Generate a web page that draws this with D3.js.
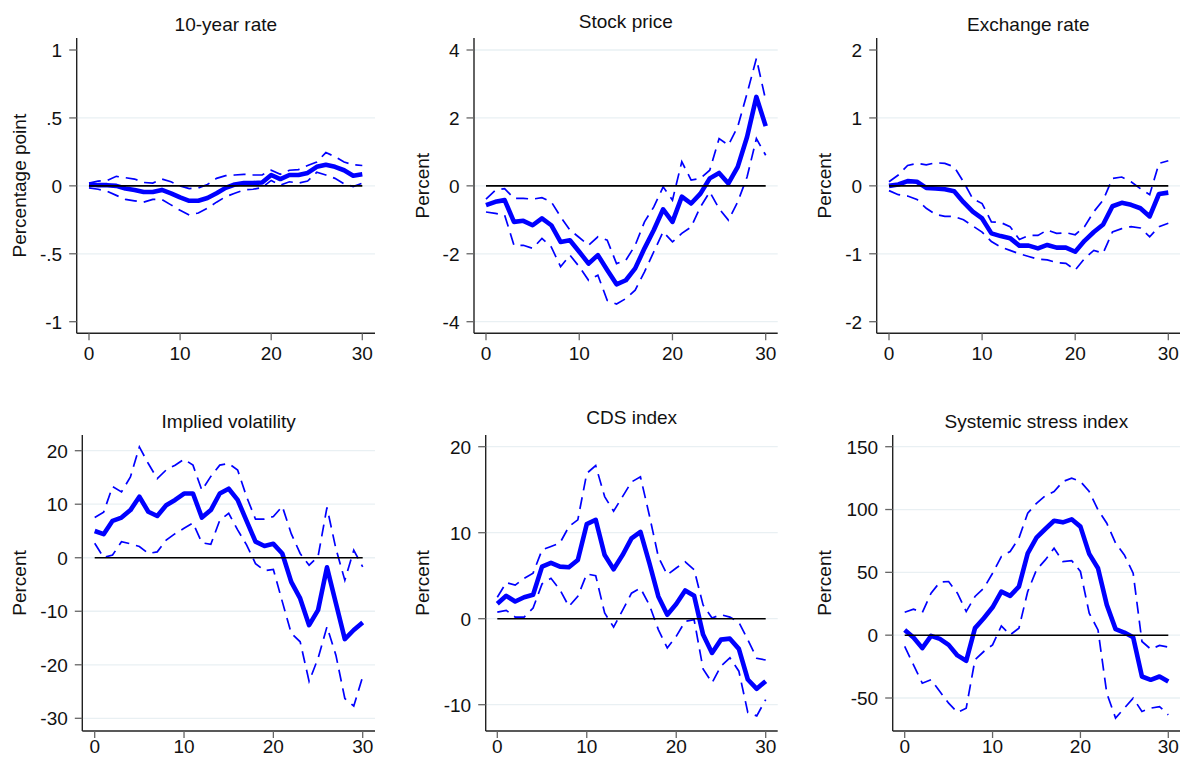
<!DOCTYPE html>
<html>
<head>
<meta charset="utf-8">
<script src="https://cdn.jsdelivr.net/npm/d3@7"></script>
<style>
  body { margin: 0; background: #fff; }
  svg { display: block; }
  text { font-family: "Liberation Sans", Arial, sans-serif; fill: #111; }
</style>
</head>
<body>
<div id="chart"></div>
<script>
// horizon (days after shock)
const HORIZON = [0,1,2,3,4,5,6,7,8,9,10,11,12,13,14,15,16,17,18,19,20,21,22,23,24,25,26,27,28,29,30];
const X_TICKS = [0, 10, 20, 30];

// 10-year rate
const rateIrf = [0.01,0.005,0.005,0,-0.02,-0.03,-0.045,-0.045,-0.03,-0.055,-0.085,-0.11,-0.11,-0.09,-0.055,-0.015,0.01,0.02,0.02,0.025,0.08,0.05,0.08,0.08,0.095,0.14,0.155,0.14,0.115,0.075,0.085];
const rateHi = [0.02,0.035,0.04,0.07,0.06,0.05,0.025,0.02,0.05,0.03,0,-0.02,-0.015,0.01,0.055,0.075,0.08,0.085,0.08,0.08,0.115,0.085,0.115,0.12,0.15,0.175,0.245,0.215,0.175,0.155,0.15];
const rateLo = [-0.015,-0.025,-0.04,-0.07,-0.1,-0.11,-0.12,-0.1,-0.1,-0.14,-0.18,-0.215,-0.2,-0.165,-0.12,-0.08,-0.055,-0.03,-0.025,-0.012,0.04,0.005,0.03,0.02,0.035,0.1,0.08,0.055,0.015,-0.005,0.02];
const rateTicks = [-1, -0.5, 0, 0.5, 1];

// stock price
const stockIrf = [-0.57,-0.47,-0.42,-1.06,-1.03,-1.16,-0.96,-1.16,-1.65,-1.6,-1.94,-2.29,-2.04,-2.48,-2.9,-2.78,-2.43,-1.84,-1.3,-0.69,-1.06,-0.32,-0.52,-0.23,0.22,0.38,0.07,0.56,1.44,2.62,1.76];
const stockHi = [-0.39,-0.13,-0.08,-0.37,-0.37,-0.39,-0.35,-0.47,-0.91,-1.3,-1.52,-1.75,-1.5,-1.6,-2.29,-2.19,-1.75,-1.06,-0.62,-0.03,-0.42,0.71,0.17,0.22,0.46,1.39,1.2,1.74,2.72,3.75,2.52];
const stockLo = [-0.77,-0.81,-0.86,-1.75,-1.75,-1.84,-1.55,-1.8,-2.38,-2.04,-2.38,-2.78,-2.63,-3.37,-3.48,-3.32,-3.07,-2.53,-1.94,-1.35,-1.65,-1.4,-1.21,-0.62,-0.18,-0.67,-1.01,-0.47,0.26,1.39,0.9];
const stockTicks = [-4, -2, 0, 2, 4];

// exchange rate
const fxIrf = [0,0.02,0.07,0.06,-0.03,-0.04,-0.05,-0.08,-0.24,-0.38,-0.48,-0.7,-0.74,-0.77,-0.88,-0.88,-0.92,-0.87,-0.91,-0.91,-0.97,-0.81,-0.68,-0.57,-0.3,-0.25,-0.28,-0.33,-0.45,-0.12,-0.1];
const fxHi = [0.06,0.16,0.3,0.33,0.31,0.34,0.33,0.28,0.06,-0.19,-0.26,-0.53,-0.54,-0.6,-0.79,-0.73,-0.73,-0.65,-0.7,-0.69,-0.72,-0.6,-0.38,-0.21,0.11,0.13,0.06,-0.04,-0.13,0.33,0.37];
const fxLo = [-0.07,-0.13,-0.15,-0.2,-0.33,-0.42,-0.45,-0.45,-0.5,-0.59,-0.68,-0.82,-0.9,-0.95,-1.0,-1.04,-1.08,-1.09,-1.13,-1.14,-1.24,-1.07,-0.95,-0.99,-0.68,-0.63,-0.6,-0.62,-0.75,-0.6,-0.55];
const fxTicks = [-2, -1, 0, 1, 2];

// implied volatility
const volIrf = [5,4.4,6.9,7.5,8.9,11.4,8.6,7.8,9.8,10.8,12,12,7.5,8.9,12,12.9,10.8,6.9,3,2.2,2.6,0.8,-4.5,-7.6,-12.6,-9.8,-1.8,-8.5,-15.2,-13.5,-12.1];
const volHi = [7.5,8.5,13.3,12.3,15.1,20.7,17.6,14.8,16.4,17.3,18.4,17.3,12.6,15.2,17.3,17.6,16.4,11.4,7.2,7.2,7.7,9.6,4.5,0.8,-1.4,0.2,9.4,1.7,-4.2,1.4,-1.7];
const volLo = [2.7,0.06,0.5,3,2.6,2.1,0.8,1.1,3.3,4.5,5.5,6.5,2.8,2.5,7,8.3,5.2,2.4,-1.1,-2.4,-2.2,-8.2,-14.1,-15.7,-23.1,-18.8,-12.9,-18.2,-26.3,-27.7,-22.2];
const volTicks = [-30, -20, -10, 0, 10, 20];

// CDS index
const cdsIrf = [1.74,2.66,2,2.5,2.78,6.06,6.5,6.06,5.98,6.83,11,11.5,7.4,5.75,7.4,9.34,10.1,6.45,2.59,0.46,1.7,3.28,2.66,-1.85,-3.98,-2.43,-2.32,-3.51,-7.07,-8.15,-7.26];
const cdsHi = [2.5,4.2,3.9,4.7,5.3,8,8.4,8.8,10.7,11.5,16.9,17.8,14.2,12.5,14.2,15.9,16.5,12,7.2,5.1,5.9,6.6,5.7,1.6,0.08,0.46,0.19,-0.42,-2.43,-4.6,-4.8];
const cdsLo = [0.77,0.97,0.19,0.19,1.24,4.05,4.7,3.36,1.43,2.6,5.2,5,0.66,-0.97,0.97,2.97,3.55,1.6,-1.27,-3.4,-2.05,-0.3,-0.12,-5.83,-7.45,-5.52,-4.56,-6.1,-10.9,-11.3,-9.4];
const cdsTicks = [-10, 0, 10, 20];

// systemic stress index
const ssiIrf = [4.2,-1.9,-10.3,-0.5,-2.9,-7.7,-16.1,-20.4,5.6,13.5,22.2,34.7,31.3,38.7,65.1,77.6,84.5,91.1,89.8,92.2,86.4,64.7,53.3,24.1,4.8,2.1,-1.6,-32.9,-35.5,-32.9,-36.9];
const ssiHi = [18.3,20.7,18,33.4,42.2,42.7,33.4,18.8,30.8,37.4,49.3,62.6,66.6,77.2,97.1,105,110.9,114.3,122.3,124.9,122.3,114.3,99.7,89.1,73.2,63.9,49.3,-5,-11.1,-8.2,-9.5];
const ssiLo = [-9,-23.6,-38.2,-35.5,-44.8,-54.1,-61.5,-58.1,-19.6,-13,-7.7,7.4,0.3,5.6,34.7,52,59.9,69.2,58.6,59.4,50.7,17.5,4.2,-46.2,-66,-58.1,-50.1,-60.7,-58.1,-56.8,-63.4];
const ssiTicks = [-50, 0, 50, 100, 150];

const TITLES = ['10-year rate', 'Stock price', 'Exchange rate', 'Implied volatility', 'CDS index', 'Systemic stress index'];
const YLABELS = ['Percentage point', 'Percent', 'Percent', 'Percent', 'Percent', 'Percent'];

const panels = [
  { irf: rateIrf, hi: rateHi, lo: rateLo, ticks: rateTicks, edgeGrid: false },
  { irf: stockIrf, hi: stockHi, lo: stockLo, ticks: stockTicks, edgeGrid: true },
  { irf: fxIrf, hi: fxHi, lo: fxLo, ticks: fxTicks, edgeGrid: false },
  { irf: volIrf, hi: volHi, lo: volLo, ticks: volTicks, edgeGrid: true },
  { irf: cdsIrf, hi: cdsHi, lo: cdsLo, ticks: cdsTicks, edgeGrid: true },
  { irf: ssiIrf, hi: ssiHi, lo: ssiLo, ticks: ssiTicks, edgeGrid: true },
];

// plot regions (pixels): axis line x, x-range for 0..30, right edge, top/bottom, y-range for min..max tick
const layout = [
  { axisX: 76.7, x0: 89, x1: 362.3, right: 375, top: 38, bottom: 333.3, yMax: 50, yMin: 321.7, titleY: 31, labX: 25.7, xlabY: 360 },
  { axisX: 474, x0: 486, x1: 765.7, right: 777.7, top: 38, bottom: 333.3, yMax: 50, yMin: 321.7, titleY: 27.7, labX: 429, xlabY: 360 },
  { axisX: 876.7, x0: 889, x1: 1168.3, right: 1180, top: 38, bottom: 333.3, yMax: 50, yMin: 321.7, titleY: 31, labX: 831.3, xlabY: 360 },
  { axisX: 82.3, x0: 94.7, x1: 362.7, right: 375, top: 435, bottom: 731, yMax: 450.7, yMin: 718.3, titleY: 427.7, labX: 25.7, xlabY: 752.5 },
  { axisX: 485.7, x0: 497.3, x1: 765.7, right: 777.7, top: 435, bottom: 731, yMax: 446.7, yMin: 704.7, titleY: 424, labX: 429, xlabY: 752.5 },
  { axisX: 892.7, x0: 904.7, x1: 1168.3, right: 1180, top: 435, bottom: 731, yMax: 446.7, yMin: 698, titleY: 427.7, labX: 831.3, xlabY: 752.5 },
];

const width = 1180, height = 757;
const FONT = 19;
const BLUE = '#0000ff';

const svg = d3.select('#chart').append('svg')
  .attr('width', width)
  .attr('height', height);

// stata-like tick labels: .5 instead of 0.5
const fmtTick = (v) => String(v).replace(/^(-?)0\./, '$1.');

panels.forEach((p, i) => {
  const L = layout[i];
  const x = d3.scaleLinear().domain([0, 30]).range([L.x0, L.x1]);
  const y = d3.scaleLinear()
    .domain([d3.min(p.ticks), d3.max(p.ticks)])
    .range([L.yMin, L.yMax]);
  const g = svg.append('g');

  // gridlines
  const gridTicks = p.edgeGrid ? p.ticks : p.ticks.slice(1, -1);
  g.selectAll('line.grid')
    .data(gridTicks)
    .enter()
    .append('line')
    .attr('x1', L.axisX)
    .attr('x2', L.right)
    .attr('y1', (d) => y(d))
    .attr('y2', (d) => y(d))
    .attr('stroke', '#e9f0f3')
    .attr('stroke-width', 1.3);

  const line = d3.line()
    .x((d, j) => x(HORIZON[j]))
    .y((d) => y(d))
    .curve(d3.curveLinear);

  // confidence bands
  [p.hi, p.lo].forEach((band) => {
    g.append('path')
      .datum(band)
      .attr('d', line)
      .attr('fill', 'none')
      .attr('stroke', BLUE)
      .attr('stroke-width', 1.7)
      .attr('stroke-dasharray', '12,7');
  });

  // impulse response
  g.append('path')
    .datum(p.irf)
    .attr('d', line)
    .attr('fill', 'none')
    .attr('stroke', BLUE)
    .attr('stroke-width', 4.6)
    .attr('stroke-linejoin', 'round');

  // zero line
  g.append('line')
    .attr('x1', x(0))
    .attr('x2', x(30))
    .attr('y1', y(0))
    .attr('y2', y(0))
    .attr('stroke', '#000')
    .attr('stroke-width', 1.6);

  // y axis
  const yAxis = g.append('g');
  yAxis.append('line')
    .attr('x1', L.axisX).attr('x2', L.axisX)
    .attr('y1', L.top).attr('y2', L.bottom)
    .attr('stroke', '#222').attr('stroke-width', 1.4);
  yAxis.selectAll('line.tick')
    .data(p.ticks)
    .enter()
    .append('line')
    .attr('x1', L.axisX - 7.5)
    .attr('x2', L.axisX)
    .attr('y1', (d) => y(d))
    .attr('y2', (d) => y(d))
    .attr('stroke', '#666')
    .attr('stroke-width', 1.3);
  yAxis.selectAll('text')
    .data(p.ticks)
    .enter()
    .append('text')
    .attr('x', L.axisX - 14.5)
    .attr('y', (d) => y(d))
    .attr('dy', '0.36em')
    .attr('text-anchor', 'end')
    .attr('font-size', FONT)
    .text(fmtTick);

  // x axis
  const xAxis = g.append('g');
  xAxis.append('line')
    .attr('x1', L.axisX).attr('x2', L.right)
    .attr('y1', L.bottom).attr('y2', L.bottom)
    .attr('stroke', '#222').attr('stroke-width', 1.4);
  xAxis.selectAll('line.tick')
    .data(X_TICKS)
    .enter()
    .append('line')
    .attr('x1', (d) => x(d))
    .attr('x2', (d) => x(d))
    .attr('y1', L.bottom)
    .attr('y2', L.bottom + 7)
    .attr('stroke', '#666')
    .attr('stroke-width', 1.3);
  xAxis.selectAll('text')
    .data(X_TICKS)
    .enter()
    .append('text')
    .attr('x', (d) => x(d))
    .attr('y', L.xlabY)
    .attr('text-anchor', 'middle')
    .attr('font-size', FONT)
    .text((d) => d);

  // title
  g.append('text')
    .attr('x', (L.axisX + L.right) / 2)
    .attr('y', L.titleY)
    .attr('text-anchor', 'middle')
    .attr('font-size', FONT)
    .text(TITLES[i]);

  // y axis title
  g.append('text')
    .attr('transform', `translate(${L.labX}, ${(L.top + L.bottom) / 2}) rotate(-90)`)
    .attr('text-anchor', 'middle')
    .attr('font-size', FONT)
    .text(YLABELS[i]);
});
</script>
</body>
</html>
